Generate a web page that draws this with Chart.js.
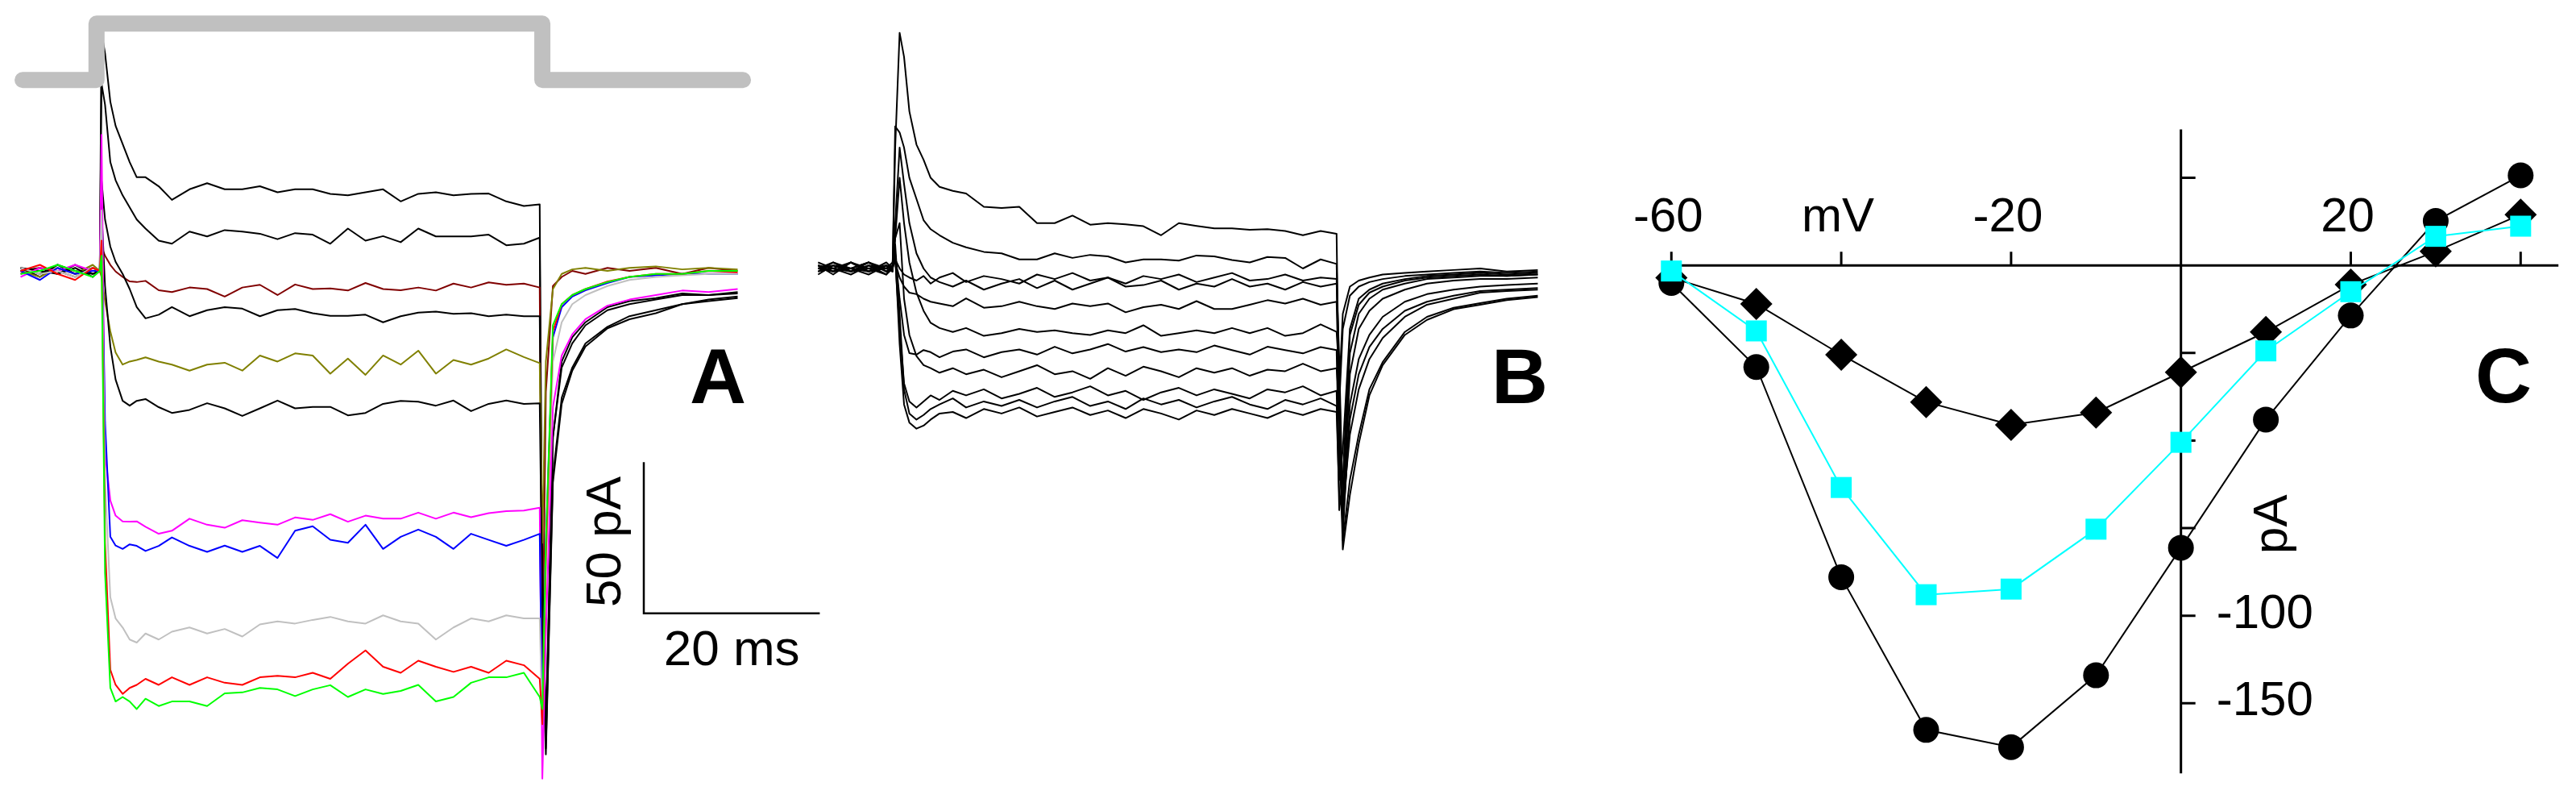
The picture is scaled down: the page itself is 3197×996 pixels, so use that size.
<!DOCTYPE html>
<html>
<head>
<meta charset="utf-8">
<script src="https://cdn.jsdelivr.net/npm/chart.js@4.4.1/dist/chart.umd.min.js"></script>
<style>
  html, body { margin: 0; padding: 0; background: #fff; }
  body { width: 3197px; height: 996px; position: relative; overflow: hidden; }
  canvas { position: absolute; top: 0; }
</style>
</head>
<body>
<canvas id="panelA" width="1040" height="996" style="left:0px"></canvas>
<canvas id="panelB" width="960" height="996" style="left:1000px"></canvas>
<canvas id="panelC" width="1237" height="996" style="left:1960px"></canvas>
<script>
// ---- panel A: whole-cell currents (pA) vs time (ms), one trace per step voltage
const tA = [-9.2, -7, -5, -3, -1, -0.2, 0, 0.4, 1, 1.6, 2.4, 3.2, 4, 5, 6.5, 8,
  10, 12, 14, 16, 18, 20, 22, 24, 26, 28, 30, 32, 34, 36, 38, 40, 42, 44, 46, 48, 49.8,
  50.1, 50.5, 51.3, 52.3, 53.5, 55, 57.5, 60, 63, 66, 69, 72.3];

const aPlus40 = [1, -2, 2, -1, 1, 0, 79, 72, 56, 48, 42, 36, 31, 31, 28, 23.5,
  27, 29, 27, 27, 28, 26, 27, 27, 25.5, 25, 26, 27, 23, 25.5, 26, 25, 25.5, 25.6, 23, 21.5, 22,
  -120, -160, -70, -44, -33, -25, -19, -16, -14, -11, -10, -9];
const aPlus30 = [0, 1, -1, 2, -1, 0, 62, 55, 36, 30, 25, 21, 17, 14, 10, 9,
  13, 11.4, 13.5, 13, 12.3, 10.5, 12.5, 12, 9, 14, 10, 11.5, 9.5, 14, 11.4, 11.4, 11.4, 12, 8.5, 9, 11,
  -110, -158, -68, -42, -32, -24, -18.5, -15, -13, -11, -9.5, -8.5];
const aMinus60 = [-1, 1, 0, -2, 1, 0, 8, 5, 2, -0.2, -2, -3.5, -3.7, -3.3, -6.4, -7,
  -5.5, -6, -8.5, -5.5, -4.6, -8, -4.5, -6, -5.8, -6.5, -4, -6, -6.4, -5.5, -6.5, -4.2, -5.5, -3.8, -4.6, -4.2, -5.5,
  -135, -40, -5, -2, 0, -1, 1, 0, 1, -1, 1, 0];
const aPlus20 = [1, -1, 2, 0, -1, 0, 30, 17, 8, 3, -1, -6, -12, -15.7, -14.5, -12,
  -15, -13, -12, -12.5, -15, -13, -12.6, -14, -14.9, -14.9, -14.5, -17, -15, -13.8, -13.5, -14.2, -14, -15, -14.5, -15, -15,
  -100, -150, -55, -32, -24, -18, -13, -11, -9.5, -8, -8, -7.5];
const aMinus50 = [0, -2, 1, -1, 2, 0, -2, -10, -20, -27, -31, -30, -29.5, -28.6, -30, -31,
  -33, -31, -30.4, -33, -28, -30, -27.3, -28, -34, -29, -34.4, -28, -31, -26.4, -34, -29.5, -31, -29, -26, -28.5, -30.5,
  -90, -30, -6, -1, 0.5, 1, 0, 1, 1.5, 0.5, 1, 0.5];
const aPlus10 = [1, 0, -1, 1, -2, 0, 20, -5, -25, -36, -43, -44.6, -43, -42.4, -45.1, -47,
  -46, -43.8, -45.5, -48, -45.5, -42.9, -45.5, -45, -45, -47.8, -47, -44, -43, -43.3, -44.6, -42.9, -46.4, -44, -42.9, -44, -43.8,
  -110, -155, -55, -30, -22, -17, -12, -10, -9, -7.5, -8, -7];
const aZero = [-2, 1, 0, 2, 0, 0, 45, -60, -76, -81, -82.9, -83, -82.9, -84.7, -87, -86,
  -82, -84, -85, -82.5, -83.3, -84, -81.6, -82.4, -80.5, -83, -81, -82, -82, -80, -82, -80, -81.5, -80.2, -79.5, -79.3, -78.4,
  -168, -120, -45, -28, -21, -16, -11.5, -9.5, -8, -6.5, -7, -6];
const aMinus40 = [0, -3, 1, -1, 0, 0, 15, -50, -88, -90.9, -92, -90.5, -91, -92.7, -91, -88.2,
  -91, -93, -90.9, -93, -91, -95, -86, -84.5, -89, -90, -84, -92, -88, -85.6, -88, -92, -87, -89, -91, -89, -87,
  -150, -90, -22, -12, -8.5, -6.4, -4, -2, -1.5, -1, -1, -1];
const aMinus10 = [1, -1, 0, -2, 1, 0, 20, -70, -108, -115, -118, -122, -123, -120, -122, -119.4,
  -118, -120, -118.5, -121, -117, -116, -116.7, -115.5, -114.5, -116, -116.7, -114, -116, -116.7, -122, -118, -115, -116, -114, -115, -115,
  -150, -100, -30, -17, -11, -8, -5, -3, -2, -1.5, -1, -1];
const aMinus30 = [0, 2, -1, -3, 1, 0, 10, -90, -132, -137, -140, -138, -137, -135, -137, -134.5,
  -137, -134.5, -136.3, -137, -134.5, -134, -134.5, -133, -135, -130, -125.6, -131, -133, -129, -131, -132.7, -131, -133, -129, -130.5, -135,
  -150, -95, -20, -11, -8, -6, -3.5, -2, -1, -1, 0, -0.5];
const aMinus20 = [-1, 0, 2, 0, -2, 0, 5, -100, -138, -142.5, -141, -142.5, -145, -141.6, -144, -142.5,
  -142.5, -144, -139.8, -139.5, -138, -138.5, -140.7, -138.5, -137.1, -141, -138.5, -140, -139, -137, -142.5, -141, -136.3, -134.5, -134.5, -133, -141,
  -145, -90, -18, -11, -8, -6, -3.7, -2, -1, -1, 0, 0];

// voltage protocol drawn above panel A (0 = holding, 1 = test step)
const stepT = [-8.97, -0.57, -0.57, 50.1, 50.1, 72.9];
const stepLevel = [0, 0, 1, 1, 0, 0];
const scaleBarMs = 20;
const scaleBarPa = 50;

// ---- panel B: second set of traces
const tB = [-8.7, -7, -5, -3, -1, -0.3, 0, 0.5, 1, 1.6, 2.4, 3.2, 4, 5, 6.5, 8,
  10, 12, 14, 16, 18, 20, 22, 24, 26, 28, 30, 32, 34, 36, 38, 40, 42, 44, 46, 48, 49.8,
  50.1, 50.5, 51.3, 52.3, 53.5, 55, 57.5, 60, 63, 66, 69, 72.5];

const bPlus40 = [1, -2, 2, -1, 1, 0, 40, 78, 70, 52, 41, 36, 30, 27, 25.7, 24.8,
  20.4, 20, 20.4, 15, 15, 17.5, 14.5, 15, 14.6, 14, 11, 15, 14.1, 13.3, 13.3, 12.8, 13, 12.4, 11, 12.4, 11.5,
  -50, -93, -75, -58, -42, -32, -22, -17, -13.5, -12, -10.5, -9.5];
const bPlus30 = [0, 1, -1, 2, 0, -1, 47, 45, 40, 30, 23, 16, 13, 11, 8.5, 7,
  5.5, 5, 3, 3, 5, 3.5, 4.5, 4, 2, 3, 3, 2.6, 4.3, 4, 2.8, 2, 3.8, 3.5, 0, 3, 1.5,
  -40, -90, -70, -55, -40, -31, -21, -16, -13, -11.5, -10, -9];
const bPlus20 = [-1, 2, 0, -2, 1, 0, 15, 40, 28, 15, 5, 0, -3, -4.5, -6, -4,
  -7, -5, -3.5, -6.5, -4, -7, -5, -3, -6, -5.5, -4, -7, -5, -6, -3.5, -6, -5, -7, -4.5, -6, -5,
  -30, -80, -55, -40, -30, -23, -16, -12, -10, -8, -7.5, -7];
const bPlus10 = [2, 0, -1, 1, -2, 0, 10, 30, 15, 2, -8, -14, -18, -19.7, -21, -19.7,
  -22.3, -21.4, -20, -21, -20.5, -21.4, -22, -20.5, -21.4, -18.8, -22.3, -21.4, -20.5, -21.4, -19.7, -21.4, -19.7, -22.3, -21.4, -18.5, -21,
  -35, -85, -50, -35, -26, -20, -14, -11, -9, -7.5, -7, -6.5];
const bZero = [0, -1, 2, 0, 1, -1, 10, 15, -10, -22, -29, -32, -33, -34.5, -33, -35,
  -33.5, -36, -34, -32, -35, -34, -36.5, -33, -35.5, -32.5, -34, -36, -33, -34.5, -33, -35.5, -33.5, -34, -31.5, -34, -33,
  -45, -88, -45, -30, -22, -16, -11, -8.5, -7, -6, -5.5, -5];
const bMinus10 = [1, 0, -2, 1, 0, 2, 8, -15, -40, -48, -50, -48.5, -46.5, -45, -43, -46,
  -44, -45.5, -43.5, -46, -44, -42.5, -45.5, -44, -46.5, -43, -45, -43.5, -46, -44, -42.5, -45, -46.5, -43.5, -45, -43, -45.5,
  -60, -85, -35, -20, -14, -10, -7, -5, -4, -3.5, -3.5, -3];
const bMinus20 = [-2, 1, 0, -1, 2, 0, 5, -25, -45, -51, -53, -52, -50, -48, -47.5, -49.5,
  -46.5, -48, -46, -49, -47.5, -46, -48.5, -47, -49.5, -46.5, -48, -50, -47, -48.5, -46.5, -48, -49.5, -47, -48.5, -46.5, -47.5,
  -75, -78, -28, -15, -10, -7, -5, -3.5, -3, -2.5, -2.5, -2];
const bMinus30 = [0, 2, -1, 0, -2, 1, 3, -20, -38, -44, -46, -44, -42, -43.5, -40.5, -42,
  -40, -43, -41.5, -39.5, -42.5, -41, -39, -42, -40.5, -43.5, -41, -39.5, -42, -40, -41.5, -43, -40, -41, -39, -42, -40.5,
  -80, -70, -22, -12, -8, -6, -4, -3, -2.5, -2, -2.5, -2];
const bMinus40 = [1, -1, 0, 2, -1, 0, 5, -10, -22, -28, -28.5, -27, -27.7, -29.4, -27.5, -26.8,
  -29.4, -27.7, -26.8, -28.5, -25.9, -28.1, -26.8, -25, -27.5, -26, -27.7, -26.8, -27.7, -25.5, -27, -28.5, -25.9, -27, -28.1, -26, -27,
  -70, -60, -20, -10, -7, -5, -3.5, -2.5, -2, -1.5, -2, -1.5];
const bMinus50 = [-1, 0, 2, -1, 0, 1, 2, -3, -6, -8, -8.5, -10, -11, -11.6, -12.5, -9.9,
  -13, -12.5, -11, -12.5, -13.4, -11.6, -12.5, -11.6, -14.5, -12.8, -12, -13.4, -10.8, -13.4, -13.4, -12, -10.5, -11.6, -10, -12, -11,
  -45, -20, -9, -6, -4.5, -3.5, -2.5, -2, -1.5, -1, -1.5, -1];
const bMinus60 = [1, -1, 0, 2, -1, 0, 3, 0, -2, -3, -4, -2.5, -5, -3, -1.5, -4.5,
  -2.5, -3.5, -5, -2, -3.5, -1.5, -4, -3, -5, -2.5, -3.5, -2, -4.5, -3, -1.5, -4, -3.5, -2, -4, -3, -3.5,
  -40, -15, -6, -4, -3, -2, -1.5, -1, -0.5, 0, -1, -0.5];

// ---- panel C: current-voltage relation
const ivVoltage = [-60, -50, -40, -30, -20, -10, 0, 10, 20, 30, 40];
const ivCircles = [-5, -29, -89, -132.6, -137.5, -117, -80.6, -44, -14.3, 12.7, 25.7];
const ivDiamonds = [-3.5, -11, -25.5, -39, -45.5, -42, -30.5, -19, -5.5, 4, 14.5];
const ivSquares = [-1.6, -18.7, -63.4, -94, -92.4, -75.3, -50.5, -24.4, -7.5, 8.3, 11.2];
const xTickValues = [-60, -40, -20, 0, 20, 40];
const xTickText = ['-60', 'mV', '-20', '', '20', ''];
const yTickValues = [25, 0, -25, -50, -75, -100, -125];
const yTickText = ['', '', '', '', '', '-100', '-150'];

const FONT = '"Liberation Sans", Arial, sans-serif';

function pts(xs, ys) { return xs.map((x, i) => ({ x: x, y: ys[i] })); }

function trace(xs, ys, color) {
  return { data: pts(xs, ys), borderColor: color, borderWidth: 2, pointRadius: 0,
    tension: 0, borderJoinStyle: 'round', fill: false };
}

function label(ctx, text, x, y, font, align, rotate) {
  ctx.save();
  ctx.font = font;
  ctx.fillStyle = '#000';
  ctx.textAlign = align || 'center';
  ctx.textBaseline = 'alphabetic';
  ctx.translate(x, y);
  if (rotate) ctx.rotate(rotate);
  ctx.fillText(text, 0, 0);
  ctx.restore();
}

// pixel anchor (where value 0 sits) and pixels per unit -> axis range filling the canvas
function range(px0, pxPerUnit, size, flip) {
  if (flip) return { min: (px0 - size) / pxPerUnit, max: px0 / pxPerUnit };
  return { min: -px0 / pxPerUnit, max: (size - px0) / pxPerUnit };
}

const baseOptions = {
  responsive: false,
  animation: false,
  events: [],
  layout: { padding: 0, autoPadding: false },
  plugins: { legend: { display: false }, tooltip: { enabled: false } }
};

// ---------------- panel A
const axA = range(126, 10.92, 1040, false);
const ayA = range(336, 3.748, 996, true);
const ayStep = range(99.3, 70, 996, true);
const barCorner = { t: 61.63, i: -113.3 };

new Chart(document.getElementById('panelA'), {
  type: 'line',
  data: {
    datasets: [
      { data: pts(stepT, stepLevel), yAxisID: 'yStep', borderColor: '#c0c0c0', borderWidth: 20,
        borderCapStyle: 'round', borderJoinStyle: 'round', pointRadius: 0, tension: 0 },
      trace(tA, aMinus20, '#00ff00'),
      trace(tA, aMinus30, '#ff0000'),
      trace(tA, aMinus10, '#c0c0c0'),
      trace(tA, aMinus40, '#0000ff'),
      trace(tA, aZero, '#ff00ff'),
      trace(tA, aPlus10, '#000000'),
      trace(tA, aMinus50, '#808000'),
      trace(tA, aPlus20, '#000000'),
      trace(tA, aMinus60, '#800000'),
      trace(tA, aPlus30, '#000000'),
      trace(tA, aPlus40, '#000000'),
      { data: pts([barCorner.t, barCorner.t, barCorner.t + scaleBarMs],
                  [barCorner.i + scaleBarPa, barCorner.i, barCorner.i]),
        borderColor: '#000', borderWidth: 2.5, pointRadius: 0, tension: 0, borderJoinStyle: 'miter' }
    ]
  },
  options: Object.assign({}, baseOptions, {
    scales: {
      x: { type: 'linear', display: false, min: axA.min, max: axA.max },
      y: { type: 'linear', display: false, min: ayA.min, max: ayA.max },
      yStep: { type: 'linear', display: false, min: ayStep.min, max: ayStep.max }
    }
  }),
  plugins: [{
    id: 'textA',
    afterDatasetsDraw(chart) {
      const ctx = chart.ctx, sx = chart.scales.x, sy = chart.scales.y;
      const xb = sx.getPixelForValue(barCorner.t);
      const yb = sy.getPixelForValue(barCorner.i);
      label(ctx, '20 ms', sx.getPixelForValue(barCorner.t + scaleBarMs / 2), yb + 64, '62px ' + FONT);
      label(ctx, '50 pA', xb - 29, sy.getPixelForValue(barCorner.i + scaleBarPa / 2) + 5,
        '62px ' + FONT, 'center', -Math.PI / 2);
      label(ctx, 'A', 891, 500, 'bold 97px ' + FONT);
    }
  }]
});

// ---------------- panel B
const axB = range(111, 11.0, 960, false);
const ayB = range(333, 3.748, 996, true);

new Chart(document.getElementById('panelB'), {
  type: 'line',
  data: {
    datasets: [
      trace(tB, bMinus20, '#000'), trace(tB, bMinus10, '#000'), trace(tB, bMinus30, '#000'),
      trace(tB, bZero, '#000'), trace(tB, bMinus40, '#000'), trace(tB, bPlus10, '#000'),
      trace(tB, bMinus50, '#000'), trace(tB, bPlus20, '#000'), trace(tB, bMinus60, '#000'),
      trace(tB, bPlus30, '#000'), trace(tB, bPlus40, '#000')
    ]
  },
  options: Object.assign({}, baseOptions, {
    scales: {
      x: { type: 'linear', display: false, min: axB.min, max: axB.max },
      y: { type: 'linear', display: false, min: ayB.min, max: ayB.max }
    }
  }),
  plugins: [{
    id: 'textB',
    afterDatasetsDraw(chart) { label(chart.ctx, 'B', 886, 500, 'bold 97px ' + FONT); }
  }]
});

// ---------------- panel C
const axC = range(746.7, 10.54, 1237, false);
const ayC = range(329.2, 4.345, 996, true);

const crossedAxes = {
  id: 'crossedAxes',
  beforeDatasetsDraw(chart) {
    const ctx = chart.ctx, sx = chart.scales.x, sy = chart.scales.y;
    const x0 = sx.getPixelForValue(0), y0 = sy.getPixelForValue(0);
    ctx.save();
    ctx.strokeStyle = '#000';
    ctx.lineWidth = 3;
    ctx.beginPath();
    ctx.moveTo(sx.getPixelForValue(-60), y0);
    ctx.lineTo(sx.getPixelForValue(44.45), y0);
    ctx.moveTo(x0, sy.getPixelForValue(38.8));
    ctx.lineTo(x0, sy.getPixelForValue(-145));
    xTickValues.forEach(v => {
      const px = sx.getPixelForValue(v);
      ctx.moveTo(px, y0);
      ctx.lineTo(px, y0 - 17);
    });
    yTickValues.forEach(v => {
      const py = sy.getPixelForValue(v);
      ctx.moveTo(x0, py);
      ctx.lineTo(x0 + 18, py);
    });
    ctx.stroke();
    ctx.restore();
    xTickValues.forEach((v, i) => {
      if (xTickText[i]) label(ctx, xTickText[i], sx.getPixelForValue(v) - 4, y0 - 42, '60px ' + FONT);
    });
    yTickValues.forEach((v, i) => {
      if (yTickText[i]) label(ctx, yTickText[i], x0 + 44, sy.getPixelForValue(v) + 15, '60px ' + FONT, 'left');
    });
    label(ctx, 'pA', x0 + 131, sy.getPixelForValue(-73.9), '60px ' + FONT, 'center', -Math.PI / 2);
    label(ctx, 'C', 1147, 499, 'bold 97px ' + FONT);
  }
};

new Chart(document.getElementById('panelC'), {
  type: 'line',
  data: {
    datasets: [
      { data: pts(ivVoltage, ivSquares), borderColor: '#00ffff', backgroundColor: '#00ffff',
        borderWidth: 2, pointStyle: 'rect', pointRadius: 18.4, pointBorderWidth: 0, tension: 0 },
      { data: pts(ivVoltage, ivDiamonds), borderColor: '#000', backgroundColor: '#000',
        borderWidth: 2, pointStyle: 'rectRot', pointRadius: 20, pointBorderWidth: 0, tension: 0 },
      { data: pts(ivVoltage, ivCircles), borderColor: '#000', backgroundColor: '#000',
        borderWidth: 2, pointStyle: 'circle', pointRadius: 16, pointBorderWidth: 0, tension: 0 }
    ]
  },
  options: Object.assign({}, baseOptions, {
    scales: {
      x: { type: 'linear', display: false, min: axC.min, max: axC.max },
      y: { type: 'linear', display: false, min: ayC.min, max: ayC.max }
    }
  }),
  plugins: [crossedAxes]
});
</script>
</body>
</html>
